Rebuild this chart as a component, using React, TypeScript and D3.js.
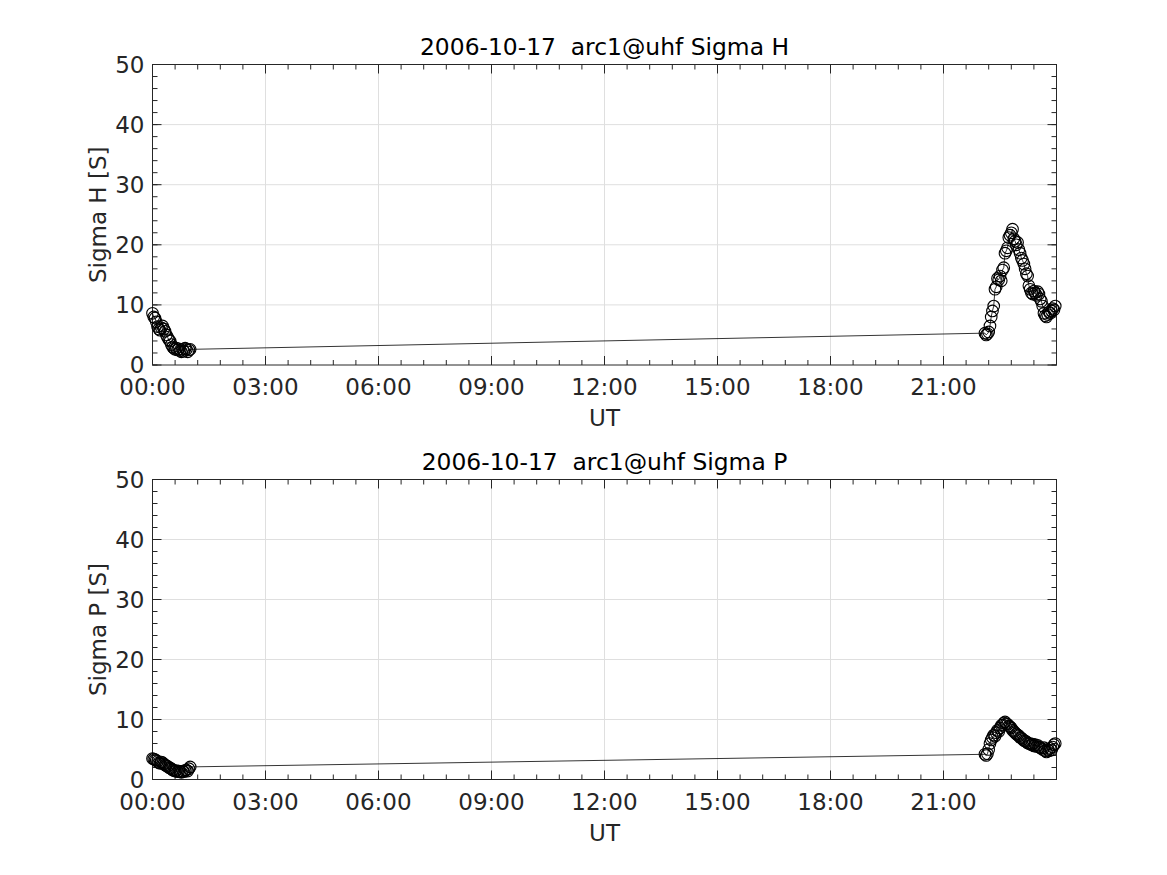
import React from "react";
import * as d3 from "d3";

// Times in minutes since 00:00 UT
const timesEarly = [0, 2, 4, 6, 8, 10, 12, 14, 16, 18, 20, 22, 24, 26, 28, 30, 32, 34, 36, 38, 40, 42, 44, 46, 48, 50, 52, 54, 56, 58, 60];
const timesLate = [1326, 1328, 1330, 1332, 1334, 1336, 1338, 1340, 1342, 1344, 1346, 1348, 1350, 1352, 1354, 1356, 1358, 1360, 1362, 1364, 1366, 1368, 1370, 1372, 1374, 1376, 1378, 1380, 1382, 1384, 1386, 1388, 1390, 1392, 1394, 1396, 1398, 1400, 1402, 1404, 1406, 1408, 1410, 1412, 1414, 1416, 1418, 1420, 1422, 1424, 1426, 1428, 1430, 1432, 1434, 1436, 1438];

const sigmaHEarly = [8.6, 8.0, 7.8, 7.2, 6.4, 6.0, 5.8, 6.2, 6.5, 6.0, 5.6, 5.0, 4.6, 4.2, 4.0, 3.4, 3.0, 2.8, 2.6, 2.8, 2.5, 2.7, 2.4, 2.2, 2.6, 2.3, 2.8, 2.6, 2.2, 2.5, 2.6];
const sigmaHLate = [5.3, 5.0, 5.2, 5.5, 6.5, 8.0, 9.0, 9.8, 12.6, 13.0, 14.4, 14.2, 14.8, 14.0, 15.8, 16.2, 18.6, 19.0, 19.5, 21.2, 21.6, 22.0, 22.6, 21.0, 20.6, 20.0, 20.4, 19.2, 18.6, 17.8, 17.4, 16.8, 16.0, 15.2, 14.8, 13.2, 12.6, 12.0, 11.8, 12.3, 12.0, 11.6, 12.2, 11.8, 11.0, 10.6, 9.8, 8.6, 8.2, 8.0, 8.4, 8.8, 8.6, 9.0, 9.4, 9.2, 9.8];

const sigmaPEarly = [3.5, 3.4, 3.3, 3.2, 3.0, 2.8, 2.7, 2.9, 2.8, 2.6, 2.4, 2.3, 2.2, 2.0, 1.9, 1.8, 1.6, 1.5, 1.4, 1.5, 1.3, 1.4, 1.3, 1.2, 1.4, 1.3, 1.5, 1.6, 1.4, 1.8, 2.1];
const sigmaPLate = [4.2, 4.0, 4.3, 5.0, 6.0, 6.6, 7.0, 7.4, 7.2, 7.8, 8.2, 8.0, 8.6, 9.0, 9.1, 9.4, 9.6, 9.3, 9.2, 8.9, 8.8, 8.6, 8.2, 8.0, 7.8, 7.6, 7.4, 7.3, 7.0, 6.9, 6.7, 6.5, 6.4, 6.3, 6.1, 6.0, 6.0, 5.8, 5.9, 5.6, 5.8, 5.5, 5.7, 5.4, 5.3, 5.2, 5.0, 5.3, 4.8, 4.6, 5.0, 4.8, 5.2, 4.9, 5.4, 5.8, 6.0];

const xTickMinutes = [0, 180, 360, 540, 720, 900, 1080, 1260];
const xTickLabels = ["00:00", "03:00", "06:00", "09:00", "12:00", "15:00", "18:00", "21:00"];
const yTicks = [0, 10, 20, 30, 40, 50];

const panels = [
  { title: "2006-10-17  arc1@uhf Sigma H", ylabel: "Sigma H [S]", early: sigmaHEarly, late: sigmaHLate, top: 64.5, bottom: 365 },
  { title: "2006-10-17  arc1@uhf Sigma P", ylabel: "Sigma P [S]", early: sigmaPEarly, late: sigmaPLate, top: 479.5, bottom: 779.5 },
];

const AX = "#262626";
const GRID = "#dfdfdf";
const FONT = "DejaVu Sans, sans-serif";
const LEFT = 152.5;
const RIGHT = 1056.5;
const TICK_FS = 23;
const LABEL_FS = 23;
const TITLE_FS = 23.4;

function Panel({ p }: { p: typeof panels[number] }) {
  const x = d3.scaleLinear().domain([0, 1440]).range([LEFT, RIGHT]);
  const y = d3.scaleLinear().domain([0, 50]).range([p.bottom, p.top]);
  const pts: [number, number][] = [
    ...timesEarly.map((t, i) => [t, p.early[i]] as [number, number]),
    ...timesLate.map((t, i) => [t, p.late[i]] as [number, number]),
  ];
  const line = d3.line<[number, number]>().x((d) => x(d[0])).y((d) => y(d[1]));
  const xMinor = d3.range(0, 1441, 36);
  const yMinor = d3.range(0, 51, 2);
  const majorLen = 9;
  const minorLen = 5;
  return (
    <g>
      {xTickMinutes.slice(1).map((t) => (
        <line key={"gx" + t} x1={x(t)} x2={x(t)} y1={p.top} y2={p.bottom} stroke={GRID} strokeWidth={1} />
      ))}
      {yTicks.slice(1, -1).map((v) => (
        <line key={"gy" + v} x1={LEFT} x2={RIGHT} y1={y(v)} y2={y(v)} stroke={GRID} strokeWidth={1} />
      ))}
      {xMinor.map((t) => (
        <g key={"mx" + t}>
          <line x1={x(t)} x2={x(t)} y1={p.bottom} y2={p.bottom - minorLen} stroke={AX} />
          <line x1={x(t)} x2={x(t)} y1={p.top} y2={p.top + minorLen} stroke={AX} />
        </g>
      ))}
      {yMinor.map((v) => (
        <g key={"my" + v}>
          <line x1={LEFT} x2={LEFT + minorLen} y1={y(v)} y2={y(v)} stroke={AX} />
          <line x1={RIGHT} x2={RIGHT - minorLen} y1={y(v)} y2={y(v)} stroke={AX} />
        </g>
      ))}
      {xTickMinutes.map((t) => (
        <g key={"tx" + t}>
          <line x1={x(t)} x2={x(t)} y1={p.bottom} y2={p.bottom - majorLen} stroke={AX} />
          <line x1={x(t)} x2={x(t)} y1={p.top} y2={p.top + majorLen} stroke={AX} />
        </g>
      ))}
      {yTicks.map((v) => (
        <g key={"ty" + v}>
          <line x1={LEFT} x2={LEFT + majorLen} y1={y(v)} y2={y(v)} stroke={AX} />
          <line x1={RIGHT} x2={RIGHT - majorLen} y1={y(v)} y2={y(v)} stroke={AX} />
        </g>
      ))}
      <rect x={LEFT} y={p.top} width={RIGHT - LEFT} height={p.bottom - p.top} fill="none" stroke={AX} strokeWidth={1} />
      <path d={line(pts) || ""} fill="none" stroke="#000" strokeWidth={0.8} />
      {pts.map((d, i) => (
        <circle key={i} cx={x(d[0])} cy={y(d[1])} r={5.8} fill="none" stroke="#000" strokeWidth={1.1} />
      ))}
      {xTickMinutes.map((t, i) => (
        <text key={"lx" + t} x={x(t)} y={p.bottom + 30} textAnchor="middle" fontSize={TICK_FS} fill={AX} fontFamily={FONT}>
          {xTickLabels[i]}
        </text>
      ))}
      {yTicks.map((v) => (
        <text key={"ly" + v} x={LEFT - 8} y={y(v) + 8} textAnchor="end" fontSize={TICK_FS} fill={AX} fontFamily={FONT}>
          {v}
        </text>
      ))}
      <text x={(LEFT + RIGHT) / 2} y={p.bottom + 61} textAnchor="middle" fontSize={LABEL_FS} fill={AX} fontFamily={FONT}>
        UT
      </text>
      <text
        transform={`translate(${LEFT - 47},${(p.top + p.bottom) / 2}) rotate(-90)`}
        textAnchor="middle"
        fontSize={LABEL_FS}
        fill={AX}
        fontFamily={FONT}
      >
        {p.ylabel}
      </text>
      <text
        x={(LEFT + RIGHT) / 2}
        y={p.top - 10}
        textAnchor="middle"
        fontSize={TITLE_FS}
        fill="#000"
        fontFamily={FONT}
        style={{ whiteSpace: "pre" }}
      >
        {p.title}
      </text>
    </g>
  );
}

export default function App() {
  return (
    <svg width={1167} height={875} style={{ position: "absolute", left: 0, top: 0, background: "#fff" }}>
      <rect width={1167} height={875} fill="#fff" />
      {panels.map((p) => (
        <Panel key={p.title} p={p} />
      ))}
    </svg>
  );
}
